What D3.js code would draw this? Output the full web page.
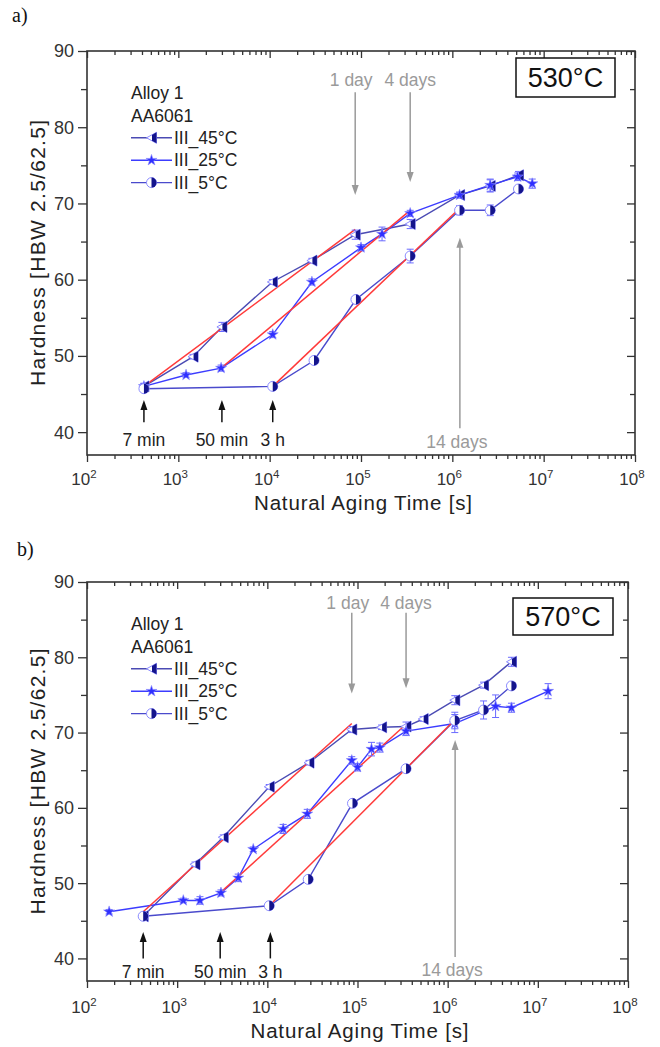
<!DOCTYPE html>
<html lang="en">
<head>
<meta charset="UTF-8">
<title>Hardness vs natural aging time</title>
<script src="https://d3js.org/d3.v7.min.js"></script>
<style>
  body { margin: 0; padding: 0; background: #fff; }
  svg text { font-family: "Liberation Sans", Arial, sans-serif; }
  .plabel { font-family: "Liberation Serif", "Times New Roman", serif !important; }
</style>
</head>
<body>
<svg width="660" height="1047"></svg>
<script>
// ---------- data ----------
const seriesNames = ["III_45°C", "III_25°C", "III_5°C"];
const legendHead = ["Alloy 1", "AA6061"];
const panelLabels = ["a)", "b)"];
const tempLabels = ["530°C", "570°C"];
const xExponents = [2, 3, 4, 5, 6, 7, 8];
const yMajor = [40, 50, 60, 70, 80, 90];
const yMinor = [45, 55, 65, 75, 85];

// panel a (530°C)
const a45T = [420, 1450, 3000, 10700, 29000, 86400, 345600, 1.2e6, 2.6e6, 5.3e6];
const a45H = [46.0, 49.9, 53.8, 59.7, 62.5, 65.9, 67.3, 71.1, 72.3, 73.7];
const a45E = [0.4, 0.3, 0.6, 0.3, 0.3, 0.6, 0.6, 0.3, 0.8, 0.5];
const a25T = [420, 1215, 2940, 10800, 29000, 100000, 170000, 345600, 1.2e6, 2.6e6, 5.2e6, 7.5e6];
const a25H = [46.0, 47.5, 48.4, 52.8, 59.7, 64.2, 66.0, 68.7, 71.1, 72.4, 73.5, 72.6];
const a25E = [0.4, 0.3, 0.4, 0.4, 0.4, 0.4, 0.9, 0.4, 0.4, 0.8, 0.5, 0.6];
const a5T = [420, 10800, 30600, 88000, 345600, 1.2e6, 2.6e6, 5.3e6];
const a5H = [45.7, 46.0, 49.4, 57.4, 63.1, 69.1, 69.1, 71.9];
const a5E = [0.3, 0.3, 0.4, 0.3, 0.9, 0.6, 0.7, 0.4];
const aFitT = [[420, 86400], [2940, 345600], [10800, 1.21e6]];
const aFitH = [[46.0, 66.6], [48.4, 69.1], [46.0, 69.4]];

// panel b (570°C)
const b45T = [420, 1575, 3245, 10500, 29000, 86400, 185000, 345600, 535000, 1.2e6, 2.5e6, 5.1e6];
const b45H = [45.6, 52.5, 56.1, 62.8, 66.0, 70.4, 70.7, 70.8, 71.8, 74.3, 76.3, 79.4];
const b45E = [0.3, 0.3, 0.3, 0.3, 0.3, 0.4, 0.3, 0.6, 0.3, 0.6, 0.4, 0.6];
const b25T = [176, 1170, 1790, 3060, 4760, 6980, 15000, 27700, 86400, 100000, 143000, 177000, 345600, 1.2e6, 3.4e6, 5.1e6, 1.3e7];
const b25H = [46.2, 47.7, 47.7, 48.7, 50.7, 54.5, 57.2, 59.2, 66.3, 65.4, 67.8, 68.0, 70.2, 71.2, 73.5, 73.3, 75.5];
const b25E = [0.3, 0.3, 0.5, 0.4, 0.5, 0.3, 0.6, 0.6, 0.5, 0.5, 0.9, 0.6, 0.6, 1.2, 1.5, 0.6, 1.0];
const b5T = [420, 10500, 28400, 88000, 345600, 1.2e6, 2.5e6, 5.1e6];
const b5H = [45.6, 47.0, 50.5, 60.6, 65.2, 71.6, 73.0, 76.2];
const b5E = [0.3, 0.3, 0.3, 0.3, 0.3, 1.1, 1.2, 0.4];
const bFitT = [[420, 86400], [3060, 345600], [10500, 1.2e6]];
const bFitH = [[46.2, 71.2], [48.8, 71.1], [47.0, 71.7]];

// annotations
const blackT = [420, 3000, 10800];
const blackLabels = ["7 min", "50 min", "3 h"];
const grayT = [86400, 345600];
const grayLabels = ["1 day", "4 days"];
const fortnightT = 1209600;
const fortnightLabel = "14 days";

// ---------- layout ----------
const colors = { s45: "#4b4bb4", s25: "#3c3cff", s5: "#4a4acc", edge: "#8c8cff", navy: "#14148c", err: "#6a6aff", fit: "#ff3a3a", gray: "#9a9a9a", axis: "#333" };

const panels = [
  { label: panelLabels[0], temp: tempLabels[0], left: 87, right: 635, top: 51, bottom: 455,
    labX: 12, labY: 22, box: [516, 58, 99, 39], xLabOff: 30, xTitleOff: 55,
    series: [[a45T, a45H, a45E], [a25T, a25H, a25E], [a5T, a5H, a5E]], fitT: aFitT, fitH: aFitH,
    ann: { bTip: 44.2, bBase: 41.3, bLab: 39.0, gTop: 84.6, gLab: 86.2, gTips: [71.1, 72.8], fBase: 40.5, fTip: 65.5, fLab: 38.7 } },
  { label: panelLabels[1], temp: tempLabels[1], left: 87, right: 628, top: 582, bottom: 981,
    labX: 17, labY: 556, box: [513, 598, 100, 37], xLabOff: 32, xTitleOff: 57,
    series: [[b45T, b45H, b45E], [b25T, b25H, b25E], [b5T, b5H, b5E]], fitT: bFitT, fitH: bFitH,
    ann: { bTip: 43.5, bBase: 40.0, bLab: 38.2, gTop: 85.9, gLab: 87.2, gTips: [75.2, 75.9], fBase: 40.2, fTip: 69.0, fLab: 38.5 } }
];

const svg = d3.select("svg");

function arrow(g, x, y1, y2, col) {
  // shaft from y1 to tip y2, head at y2
  const dir = y2 < y1 ? 1 : -1;
  g.append("line").attr("x1", x).attr("x2", x).attr("y1", y1).attr("y2", y2 + dir * 8)
    .attr("stroke", col).attr("stroke-width", 1.5);
  g.append("path")
    .attr("d", `M${x},${y2} L${x - 3.5},${y2 + dir * 10} L${x + 3.5},${y2 + dir * 10} Z`)
    .attr("fill", col);
}

function marker(g, kind, x, y) {
  if (kind === 0) {
    g.append("path").attr("d", `M${x - 5},${y} L${x + 5},${y - 5.5} L${x + 5},${y + 5.5} Z`)
      .attr("fill", "#fff").attr("stroke", colors.edge).attr("stroke-width", 1);
    g.append("path").attr("d", `M${x + 0.5},${y - 2.9} L${x + 5},${y - 5.5} L${x + 5},${y + 5.5} L${x + 0.5},${y + 2.9} Z`)
      .attr("fill", colors.navy);
  } else if (kind === 1) {
    g.append("path").attr("d", d3.symbol(d3.symbolStar, 38)())
      .attr("transform", `translate(${x},${y})`)
      .attr("fill", "#2f2fff").attr("stroke", colors.edge).attr("stroke-width", 0.6);
  } else {
    g.append("circle").attr("cx", x).attr("cy", y).attr("r", 5)
      .attr("fill", "#fff").attr("stroke", colors.edge).attr("stroke-width", 1);
    g.append("path").attr("d", `M${x},${y - 5} A5,5 0 0,1 ${x},${y + 5} Z`).attr("fill", colors.navy);
  }
}

const lineCols = [colors.s45, colors.s25, colors.s5];

panels.forEach(p => {
  const x = d3.scaleLog().domain([1e2, 1e8]).range([p.left, p.right]);
  const y = d3.scaleLinear().domain([37, 90]).range([p.bottom, p.top]);
  const g = svg.append("g");

  g.append("text").attr("class", "plabel").attr("x", p.labX).attr("y", p.labY)
    .attr("font-size", 20).attr("fill", "#111").text(p.label);

  // axes
  const minorX = [];
  xExponents.slice(0, -1).forEach(e => { for (let k = 2; k <= 9; k++) minorX.push(k * Math.pow(10, e)); });
  const majorX = xExponents.map(e => Math.pow(10, e));

  const axes = [
    [d3.axisBottom(x).tickValues(majorX).tickSize(7), `translate(0,${p.bottom})`],
    [d3.axisBottom(x).tickValues(minorX).tickSize(4), `translate(0,${p.bottom})`],
    [d3.axisTop(x).tickValues(majorX).tickSize(-7), `translate(0,${p.top})`],
    [d3.axisTop(x).tickValues(minorX).tickSize(-4), `translate(0,${p.top})`],
    [d3.axisLeft(y).tickValues(yMajor).tickSize(9), `translate(${p.left},0)`],
    [d3.axisLeft(y).tickValues(yMinor).tickSize(6), `translate(${p.left},0)`],
    [d3.axisRight(y).tickValues(yMajor).tickSize(-8), `translate(${p.right},0)`],
    [d3.axisRight(y).tickValues(yMinor).tickSize(-5), `translate(${p.right},0)`]
  ];
  axes.forEach(([ax, tr]) => {
    const a = g.append("g").attr("transform", tr).call(ax.tickFormat("").tickSizeOuter(0));
    a.select(".domain").remove();
    a.selectAll("line").attr("stroke", colors.axis).attr("stroke-width", 1.3);
  });
  g.append("rect").attr("x", p.left).attr("y", p.top)
    .attr("width", p.right - p.left).attr("height", p.bottom - p.top)
    .attr("fill", "none").attr("stroke", colors.axis).attr("stroke-width", 1.6);

  // tick labels
  g.selectAll(".ylab").data(yMajor).join("text")
    .attr("x", p.left - 13).attr("y", d => y(d)).attr("dy", "0.36em")
    .attr("text-anchor", "end").attr("font-size", 18).attr("fill", "#333").text(d => d);
  const xl = g.selectAll(".xlab").data(xExponents).join("text")
    .attr("x", d => x(Math.pow(10, d)) - 3).attr("y", p.bottom + p.xLabOff)
    .attr("text-anchor", "middle").attr("font-size", 17).attr("fill", "#333");
  xl.append("tspan").text("10");
  xl.append("tspan").attr("dy", -7).attr("font-size", 11.5).text(d => d);

  g.append("text").attr("x", (p.left + p.right) / 2 + 2).attr("y", p.bottom + p.xTitleOff)
    .attr("text-anchor", "middle").attr("font-size", 20.5).attr("fill", "#222")
    .attr("textLength", 218).attr("lengthAdjust", "spacing")
    .text("Natural Aging Time [s]");
  g.append("text").attr("transform", `translate(37,${(p.top + p.bottom) / 2}) rotate(-90)`)
    .attr("text-anchor", "middle").attr("dominant-baseline", "central")
    .attr("font-size", 21).attr("fill", "#222")
    .attr("textLength", 266).attr("lengthAdjust", "spacing")
    .text("Hardness [HBW 2.5/62.5]");

  // annotations
  const an = p.ann;
  blackT.forEach((t, i) => {
    arrow(g, x(t), y(an.bBase), y(an.bTip), "#111");
    g.append("text").attr("x", x(t)).attr("y", y(an.bLab)).attr("dy", "0.35em")
      .attr("text-anchor", "middle").attr("font-size", 17.5).attr("fill", "#222").text(blackLabels[i]);
  });
  grayT.forEach((t, i) => {
    arrow(g, x(t), y(an.gTop), y(an.gTips[i]), colors.gray);
    g.append("text").attr("x", x(t) - (i === 0 ? 4 : 0)).attr("y", y(an.gLab)).attr("dy", "0.35em")
      .attr("text-anchor", "middle").attr("font-size", 17.5).attr("fill", colors.gray).text(grayLabels[i]);
  });
  arrow(g, x(fortnightT), y(an.fBase), y(an.fTip), colors.gray);
  g.append("text").attr("x", x(fortnightT) - 3).attr("y", y(an.fLab)).attr("dy", "0.35em")
    .attr("text-anchor", "middle").attr("font-size", 17.5).attr("fill", colors.gray).text(fortnightLabel);

  // temperature box
  const [bx, by, bw, bh] = p.box;
  g.append("rect").attr("x", bx).attr("y", by).attr("width", bw).attr("height", bh)
    .attr("fill", "#fff").attr("stroke", "#111").attr("stroke-width", 1.5);
  g.append("text").attr("x", bx + bw / 2).attr("y", by + bh / 2).attr("dy", "0.36em")
    .attr("text-anchor", "middle").attr("font-size", 27).attr("fill", "#111").text(p.temp);

  // series lines
  const line = d3.line().x(d => x(d[0])).y(d => y(d[1]));
  p.series.forEach(([T, H], s) => {
    g.append("path").datum(T.map((t, i) => [t, H[i]])).attr("d", line)
      .attr("fill", "none").attr("stroke", lineCols[s]).attr("stroke-width", 1.4);
  });
  // linear fits
  p.fitT.forEach((T, i) => {
    g.append("path").datum(T.map((t, j) => [t, p.fitH[i][j]])).attr("d", line)
      .attr("fill", "none").attr("stroke", colors.fit).attr("stroke-width", 1.5);
  });
  // error bars + markers
  p.series.forEach(([T, H, E], s) => {
    T.forEach((t, i) => {
      const cx = x(t), y0 = y(H[i] - E[i]), y1 = y(H[i] + E[i]);
      g.append("path").attr("d", `M${cx},${y0}V${y1}M${cx - 3.5},${y0}H${cx + 3.5}M${cx - 3.5},${y1}H${cx + 3.5}`)
        .attr("stroke", colors.err).attr("stroke-width", 1).attr("fill", "none");
    });
  });
  p.series.forEach(([T, H], s) => {
    T.forEach((t, i) => marker(g, s, x(t), y(H[i])));
  });

  // legend
  const lx = p.left + 44, ly0 = p.top + 42, dy = 22.4;
  legendHead.forEach((t, i) => {
    g.append("text").attr("x", lx).attr("y", ly0 + i * dy).attr("dy", "0.35em")
      .attr("font-size", 17.5).attr("fill", "#222").text(t);
  });
  seriesNames.forEach((nm, s) => {
    const yy = ly0 + (s + 2) * dy;
    g.append("line").attr("x1", lx).attr("x2", lx + 41).attr("y1", yy).attr("y2", yy)
      .attr("stroke", lineCols[s]).attr("stroke-width", 1.4);
    marker(g, s, lx + 20.5, yy);
    g.append("text").attr("x", lx + 43).attr("y", yy).attr("dy", "0.35em")
      .attr("font-size", 17.5).attr("fill", "#222").text(nm);
  });
});
</script>
</body>
</html>
